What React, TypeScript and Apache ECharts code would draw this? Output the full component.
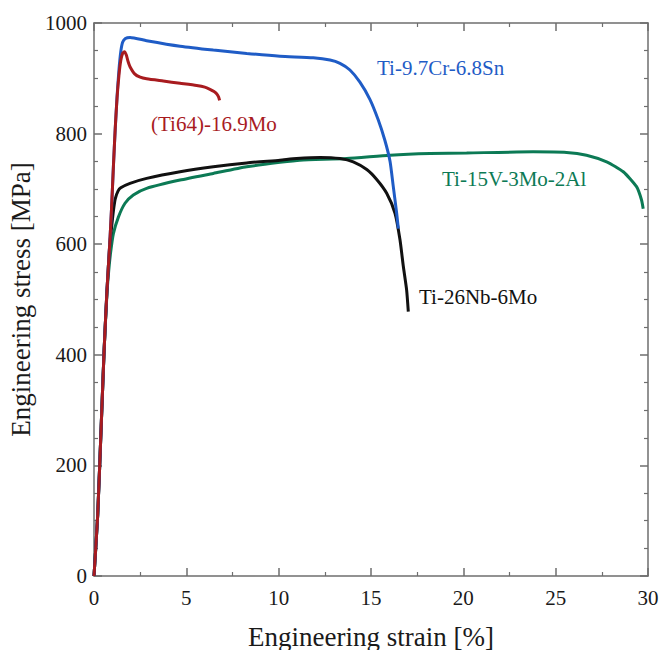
import React, { useEffect, useRef } from "react";
import * as echarts from "echarts";

// Engineering strain [%], engineering stress [MPa]
const ti64Mo: [number, number][] = [
  [0, 0], [0.2, 110], [0.4, 280], [0.55, 410], [0.7, 515], [0.85, 600], [0.95, 665],
  [1.05, 740], [1.15, 810], [1.25, 865], [1.35, 905], [1.45, 932], [1.55, 945],
  [1.65, 948], [1.75, 942], [1.85, 930], [1.95, 921], [2.2, 908], [2.5, 902],
  [2.85, 899], [3.75, 895], [4.66, 891], [5.56, 887], [6.0, 884], [6.28, 880],
  [6.5, 876], [6.64, 872], [6.75, 866], [6.8, 860],
];

const tiCrSn: [number, number][] = [
  [0, 0], [0.2, 110], [0.4, 280], [0.55, 410], [0.7, 515], [0.85, 600], [0.95, 665],
  [1.05, 740], [1.15, 808], [1.25, 868], [1.35, 915], [1.45, 948], [1.55, 965],
  [1.7, 972], [1.95, 974], [2.85, 968], [4.66, 958], [6.46, 951], [8.27, 945],
  [10.07, 940], [11.87, 937], [12.78, 933], [13.32, 927], [13.86, 915], [14.4, 893],
  [14.94, 862], [15.39, 825], [15.75, 788], [16.03, 750], [16.2, 706], [16.39, 656],
  [16.48, 628],
];

const tiNbMo: [number, number][] = [
  [0, 0], [0.2, 110], [0.4, 280], [0.55, 410], [0.7, 515], [0.85, 598], [0.95, 630],
  [1.05, 660], [1.15, 682], [1.3, 696], [1.45, 702], [1.95, 710], [2.85, 719],
  [4.66, 731], [6.46, 740], [8.27, 747], [10.07, 752], [10.97, 755], [12.24, 757],
  [13.32, 755], [14.04, 749], [14.77, 735], [15.31, 717], [15.85, 692], [16.3, 656],
  [16.57, 608], [16.75, 560], [16.93, 517], [17.02, 478],
];

const tiVMoAl: [number, number][] = [
  [0, 0], [0.2, 110], [0.4, 280], [0.55, 410], [0.7, 510], [0.8, 553], [0.9, 585],
  [1.05, 619], [1.32, 649], [1.68, 674], [2.13, 689], [2.85, 701], [4.66, 716],
  [6.46, 728], [8.27, 740], [10.07, 748], [11.15, 752], [13.68, 755], [16.03, 761],
  [18.19, 764], [20.18, 765], [23.78, 767], [25.59, 766], [26.67, 761], [27.76, 749],
  [28.66, 731], [29.38, 704], [29.65, 680], [29.74, 664],
];

const xTicks = { min: 0, max: 30, interval: 5 };
const yTicks = { min: 0, max: 1000, interval: 200 };

const FONT = "'Liberation Serif', 'Times New Roman', serif";
const AXIS_COLOR = "#6e6e6e";
const TEXT_COLOR = "#1a1a1a";

const BLUE = "#1f5cc6";
const RED = "#a81b1f";
const GREEN = "#0c7a55";
const BLACK = "#111111";

export default function App() {
  const ref = useRef<HTMLDivElement>(null);

  useEffect(() => {
    if (!ref.current) return;
    const chart = echarts.init(ref.current, null, { renderer: "svg" });

    const axisCommon = {
      axisLine: { show: true, onZero: false, lineStyle: { color: AXIS_COLOR, width: 1.5 } },
      axisTick: { show: true, inside: true, length: 8, lineStyle: { color: AXIS_COLOR, width: 1.5 } },
      minorTick: { show: true, length: 4, lineStyle: { color: AXIS_COLOR, width: 1.2 } },
      splitLine: { show: false },
    };

    const lineSeries = (name: string, data: [number, number][], color: string) => ({
      name,
      type: "line" as const,
      data,
      showSymbol: false,
      smooth: 0.2,
      lineStyle: { color, width: 3 },
      itemStyle: { color },
      z: 3,
    });

    const labelText = (x: number, y: number, text: string, color: string) => ({
      type: "text" as const,
      x,
      y,
      style: {
        text,
        fill: color,
        font: `21px ${FONT}`,
        verticalAlign: "middle",
        align: "left",
      },
      z: 10,
    });

    const plain = (v: number) => String(v);

    chart.setOption({
      animation: false,
      backgroundColor: "#ffffff",
      grid: { left: 94, right: 16, top: 23, bottom: 74, containLabel: false, outerBoundsMode: "none" },
      xAxis: [
        {
          type: "value",
          position: "bottom",
          min: xTicks.min,
          max: xTicks.max,
          interval: xTicks.interval,
          ...axisCommon,
          minorTick: { ...axisCommon.minorTick, splitNumber: 2 },
          axisLabel: { color: TEXT_COLOR, fontSize: 21, fontFamily: FONT, margin: 11, formatter: plain },
          name: "Engineering strain [%]",
          nameLocation: "middle",
          nameGap: 47,
          nameTextStyle: { color: TEXT_COLOR, fontSize: 27, fontFamily: FONT },
        },
        {
          type: "value",
          position: "top",
          min: xTicks.min,
          max: xTicks.max,
          interval: xTicks.interval,
          ...axisCommon,
          minorTick: { ...axisCommon.minorTick, splitNumber: 2 },
          axisLabel: { show: false },
        },
      ],
      yAxis: [
        {
          type: "value",
          position: "left",
          min: yTicks.min,
          max: yTicks.max,
          interval: yTicks.interval,
          ...axisCommon,
          minorTick: { ...axisCommon.minorTick, splitNumber: 4 },
          axisLabel: { color: TEXT_COLOR, fontSize: 21, fontFamily: FONT, margin: 7, formatter: plain },
          name: "Engineering stress [MPa]",
          nameLocation: "middle",
          nameGap: 54,
          nameTextStyle: { color: TEXT_COLOR, fontSize: 27, fontFamily: FONT },
        },
        {
          type: "value",
          position: "right",
          min: yTicks.min,
          max: yTicks.max,
          interval: yTicks.interval,
          ...axisCommon,
          minorTick: { ...axisCommon.minorTick, splitNumber: 4 },
          axisLabel: { show: false },
        },
      ],
      series: [
        lineSeries("Ti-15V-3Mo-2Al", tiVMoAl, GREEN),
        lineSeries("Ti-26Nb-6Mo", tiNbMo, BLACK),
        lineSeries("Ti-9.7Cr-6.8Sn", tiCrSn, BLUE),
        lineSeries("(Ti64)-16.9Mo", ti64Mo, RED),
      ],
      graphic: [
        labelText(377, 68, "Ti-9.7Cr-6.8Sn", BLUE),
        labelText(151, 124, "(Ti64)-16.9Mo", RED),
        labelText(442, 179, "Ti-15V-3Mo-2Al", GREEN),
        labelText(419, 297, "Ti-26Nb-6Mo", BLACK),
      ],
    });

    return () => chart.dispose();
  }, []);

  return (
    <div
      ref={ref}
      style={{ position: "fixed", left: 0, top: 0, width: 664, height: 650, background: "#fff" }}
    />
  );
}
